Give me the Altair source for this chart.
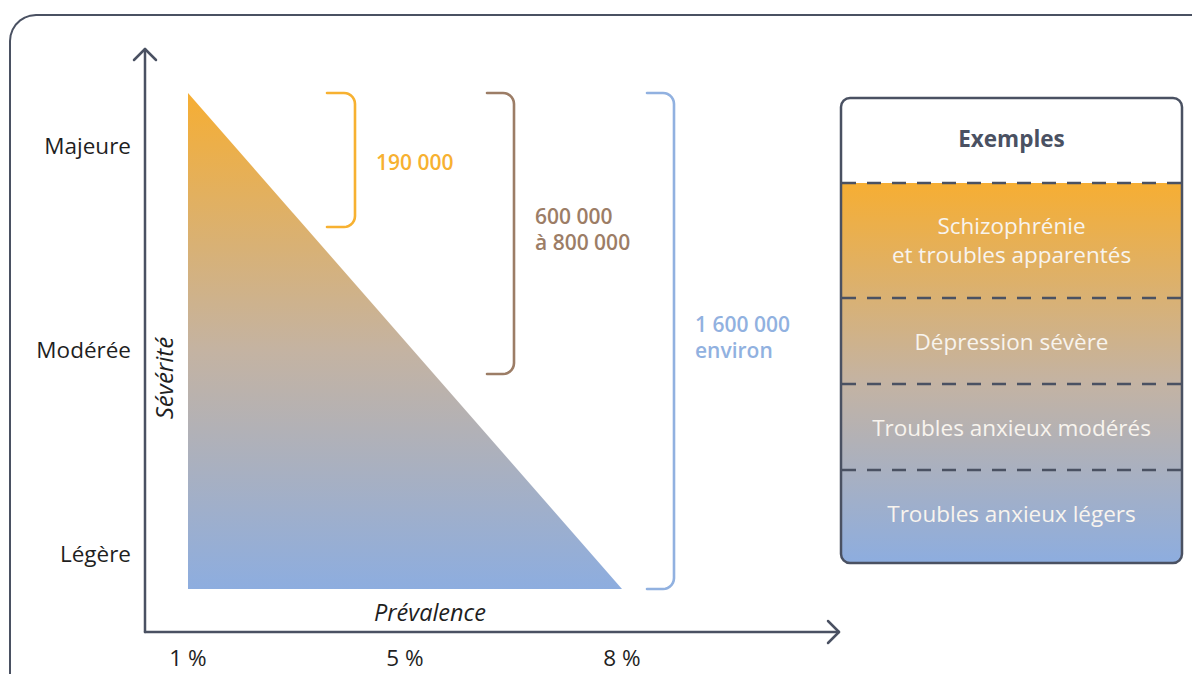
import altair as alt
import numpy as np
import pandas as pd

# ------------------------------------------------------------------ data
severity_levels = ["Légère", "Modérée", "Majeure"]          # y categories (bottom -> top)
prevalence_ticks = ["1 %", "5 %", "8 %"]                       # x categories (left -> right)
axis_titles = {"x": "Prévalence", "y": "Sévérité"}
bracket_labels = ["190 000", "600 000\nà 800 000", "1 600 000\nenviron"]
bracket_colors = ["#f7b131", "#9c7d66", "#91b1e0"]
panel_title = "Exemples"
examples = [
    "Schizophrénie\net troubles apparentés",
    "Dépression sévère",
    "Troubles anxieux modérés",
    "Troubles anxieux légers",
]

# ------------------------------------------------------------------ layout
W, H = 1184, 666
PX_X, PX_Y = 434.0, 204.0          # px per prevalence step (1 %..8 %) / per severity level
ORIGIN_X, ORIGIN_Y = 188.0, 553.0  # page px of (1 %, Légère)


def ux(px):
    return (px - ORIGIN_X) / PX_X


def uy(py):
    return (ORIGIN_Y - py) / PX_Y


XD = [ux(8), ux(8 + W)]
YD = [uy(8 + H), uy(8)]
AXIS_C = "#4a5162"
TEXT_C = "#1f1f1f"
FONT = "Open Sans"
DY = 1.5

xs = alt.Scale(domain=XD, nice=False, zero=False)
ys = alt.Scale(domain=YD, nice=False, zero=False)


def X(f="x"):
    return alt.X(f"{f}:Q", scale=xs, axis=None)


def Y(f="y"):
    return alt.Y(f"{f}:Q", scale=ys, axis=None)


grad_stops = [
    alt.GradientStop(color="#f6ae33", offset=0),
    alt.GradientStop(color="#c4b3a2", offset=0.52),
    alt.GradientStop(color="#8daddf", offset=1),
]
grad = alt.LinearGradient(gradient="linear", stops=grad_stops, x1=0, x2=0, y1=0, y2=1)

# ------------------------------------------------------------------ triangle (prevalence vs severity)
n_prev = len(prevalence_ticks)
tick_pos = [i / (n_prev - 1) for i in range(n_prev)]
s_top, s_bot = uy(93), uy(589)
tri = pd.DataFrame({"x": [tick_pos[0], tick_pos[-1]], "y": [s_top, s_bot], "y2": [s_bot, s_bot]})
triangle = alt.Chart(tri).mark_area(color=grad, line=False).encode(
    x=X(), y=Y(), y2="y2:Q"
)

# ------------------------------------------------------------------ line paths (frame, arrows, brackets)
rows = []


def add_path(pid, pts, color, width):
    for i, (px, py) in enumerate(pts):
        rows.append({"pid": pid, "i": i, "x": ux(px), "y": uy(py), "c": color, "w": width})


def arc(cx, cy, r, a0, a1, n=8):
    t = np.linspace(np.radians(a0), np.radians(a1), n)
    return list(zip(cx + r * np.cos(t), cy + r * np.sin(t)))


# outer frame
R = 26
add_path("frame", [(10, 720)] + arc(10 + R, 15 + R, R, 180, 270) + [(1240, 15)], AXIS_C, 2)
# axes with arrowheads
add_path("yaxis", [(145, 632), (145, 49)], AXIS_C, 2.5)
add_path("yhead", [(134, 60), (145, 49), (156, 60)], AXIS_C, 2.5)
add_path("xaxis", [(145, 632), (839, 632)], AXIS_C, 2.5)
add_path("xhead", [(828, 621), (839, 632), (828, 643)], AXIS_C, 2.5)

# brackets
br_geom = [(327, 355, 93, 227), (487, 514, 93, 374), (647, 674, 93, 589)]
r = 11
for k, (x0, x1, yt, yb) in enumerate(br_geom):
    pts = [(x0, yt)] + arc(x1 - r, yt + r, r, -90, 0) + arc(x1 - r, yb - r, r, 0, 90) + [(x0, yb)]
    add_path(f"br{k}", pts, bracket_colors[k], 2.6)

lines_df = pd.DataFrame(rows)
lines = alt.Chart(lines_df).mark_line(strokeCap="round", strokeJoin="round").encode(
    x=X(), y=Y(),
    detail="pid:N",
    order="i:Q",
    color=alt.Color("c:N", scale=None),
    strokeWidth=alt.StrokeWidth("w:Q", scale=None),
)

# ------------------------------------------------------------------ axis labels
ylab = alt.Chart(pd.DataFrame({"t": severity_levels, "y": list(range(len(severity_levels))), "x": ux(131)})).mark_text(
    align="right", baseline="middle", font=FONT, fontSize=22.5, color=TEXT_C, dy=DY
).encode(x=X(), y=Y(), text="t:N")

xlab = alt.Chart(pd.DataFrame({"t": prevalence_ticks, "x": tick_pos, "y": uy(657)})).mark_text(
    align="center", baseline="middle", font=FONT, fontSize=22.5, color=TEXT_C, dy=DY
).encode(x=X(), y=Y(), text="t:N")

xtitle = alt.Chart(pd.DataFrame({"t": [axis_titles["x"]], "x": [ux(430)], "y": [uy(612)]})).mark_text(
    align="center", baseline="middle", font=FONT, fontSize=23.5, fontStyle="italic", color=TEXT_C, dy=DY
).encode(x=X(), y=Y(), text="t:N")

ytitle = alt.Chart(pd.DataFrame({"t": [axis_titles["y"]], "x": [ux(166)], "y": [uy(378)]})).mark_text(
    align="center", baseline="middle", font=FONT, fontSize=24, fontStyle="italic", color=TEXT_C, angle=270
).encode(x=X(), y=Y(), text="t:N")

# ------------------------------------------------------------------ bracket labels
lab_pos = [(376, 162), (535, 216), (695, 324)]
blab = alt.Chart(pd.DataFrame({
    "t": bracket_labels,
    "x": [ux(p[0]) for p in lab_pos],
    "y": [uy(p[1]) for p in lab_pos],
    "c": bracket_colors,
})).mark_text(
    align="left", baseline="middle", font=FONT, fontSize=21, fontWeight=600, lineBreak="\n", lineHeight=26, dy=DY
).encode(x=X(), y=Y(), text="t:N", color=alt.Color("c:N", scale=None))

# ------------------------------------------------------------------ examples panel
PX0, PX1, PT, PH, PB = 841, 1182, 98, 183, 563
panel_fill = alt.Chart(pd.DataFrame({"x": [ux(PX0)], "x2": [ux(PX1)], "y": [uy(PH)], "y2": [uy(PB)]})).mark_rect(
    color=grad, cornerRadiusBottomLeft=8, cornerRadiusBottomRight=8
).encode(x=X(), x2="x2:Q", y=Y(), y2="y2:Q")

panel_border = alt.Chart(pd.DataFrame({"x": [ux(PX0)], "x2": [ux(PX1)], "y": [uy(PT)], "y2": [uy(PB)]})).mark_rect(
    fill=None, fillOpacity=0, stroke=AXIS_C, strokeWidth=2.5, cornerRadius=9
).encode(x=X(), x2="x2:Q", y=Y(), y2="y2:Q")

row_edges = [183, 298, 384, 470]
dashes = alt.Chart(pd.DataFrame({"x": ux(PX0 + 1), "x2": ux(PX1 - 1), "y": [uy(v) for v in row_edges]})).mark_rule(
    color=AXIS_C, strokeWidth=2.6, strokeDash=[14, 11]
).encode(x=X(), x2="x2:Q", y=Y())

title_t = alt.Chart(pd.DataFrame({"t": [panel_title], "x": [ux((PX0 + PX1) / 2)], "y": [uy(138)]})).mark_text(
    align="center", baseline="middle", font=FONT, fontSize=22.5, fontWeight="bold", color=AXIS_C, dy=DY
).encode(x=X(), y=Y(), text="t:N")

row_centers = [225, 341, 427, 513]
ex_t = alt.Chart(pd.DataFrame({"t": examples, "x": ux((PX0 + PX1) / 2), "y": [uy(v) for v in row_centers]})).mark_text(
    align="center", baseline="middle", font=FONT, fontSize=22.5, color="#f8f4ee", lineBreak="\n", lineHeight=29, dy=DY
).encode(x=X(), y=Y(), text="t:N")

chart = alt.layer(
    triangle, panel_fill, dashes, panel_border, lines, ylab, xlab, xtitle, ytitle, blab, title_t, ex_t
).properties(
    width=W, height=H, autosize=alt.AutoSizeParams(type="none"), padding=0
).configure_view(stroke=None)

chart.save("out.html", embed_options={"renderer": "svg", "actions": False})
